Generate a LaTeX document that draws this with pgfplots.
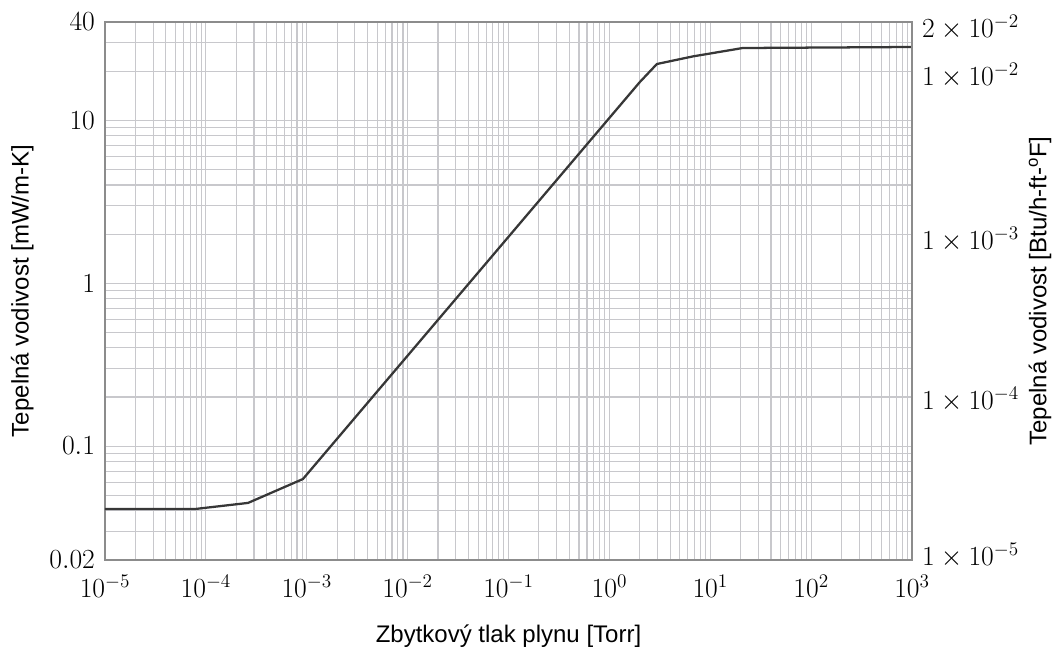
\documentclass[border=0pt]{standalone}
\usepackage{pgfplots}
\pgfplotsset{compat=1.18}
\usepackage{fontspec}
\setmainfont{Liberation Sans}
\definecolor{gridgray}{RGB}{200,200,204}
\definecolor{framegray}{RGB}{140,140,140}
\definecolor{curve}{RGB}{55,55,55}
\begin{document}
\begin{tikzpicture}
\path[use as bounding box] (-78.75pt,-75pt) rectangle (717.75pt,420pt);
\begin{axis}[
  at={(0,0)}, anchor=south west,
  scale only axis, width=605.25pt, height=403.5pt,
  xmode=log, ymode=log,
  xmin=1e-5, xmax=1e3, ymin=0.02, ymax=40,
  xtick={1e-5,1e-4,1e-3,1e-2,1e-1,1,10,100,1000},
  ytick={0.02,0.1,1,10,40},
  yticklabels={$0.02$,$0.1$,$1$,$10$,$40$},
  minor ytick={0.03,0.04,0.05,0.06,0.07,0.08,0.09,0.2,0.3,0.4,0.5,0.6,0.7,0.8,0.9,2,3,4,5,6,7,8,9,20,30},
  grid=both,
  major grid style={draw=gridgray, line width=0.8pt},
  minor grid style={draw=gridgray, line width=0.8pt},
  axis line style={draw=framegray, line width=0.8pt},
  tick style={draw=none},
  ticklabel style={font=\fontsize{20}{24}\selectfont},
  xticklabel style={yshift=-8pt},
  yticklabel style={xshift=-4pt},
  label style={font=\fontsize{18}{22}\selectfont},
  xlabel={Zbytkový tlak plynu [Torr]},
  ylabel={Tepelná vodivost [mW/m-K]},
  xlabel style={at={(axis description cs:0.5,0)}, anchor=center, yshift=-57pt},
  ylabel style={at={(axis description cs:0,0.5)}, anchor=center, yshift=62pt},
]
\addplot[curve, line width=1.7pt] coordinates {
  (1e-5,0.0411) (7.8e-5,0.0411) (2.62e-4,0.0448) (9.17e-4,0.0628)
  (2.0,17.1) (2.96,22.1) (6.73,24.6) (21.0,27.7) (1000,28.1)
};
\end{axis}
\begin{axis}[
  at={(0,0)}, anchor=south west,
  scale only axis, width=605.25pt, height=403.5pt,
  xmode=log, ymode=log,
  xmin=1e-5, xmax=1e3, ymin=0.02, ymax=40,
  axis x line=none,
  axis y line*=right,
  axis line style={draw=framegray, line width=0.8pt},
  ytick={36.8,18.9,1.84,0.192,0.0212},
  yticklabels={$2\times10^{-2}$,$1\times10^{-2}$,$1\times10^{-3}$,$1\times10^{-4}$,$1\times10^{-5}$},
  minor ytick={},
  tick style={draw=none},
  ticklabel style={font=\fontsize{20}{24}\selectfont},
  yticklabel style={xshift=4pt},
  label style={font=\fontsize{18}{22}\selectfont},
  ylabel={Tepelná vodivost [Btu/h-ft-\textsuperscript{o}F]},
  ylabel style={at={(axis description cs:1,0.5)}, anchor=center, yshift=-96pt},
]
\addplot[draw=none] coordinates {(1e-5,1) (1e3,1)};
\end{axis}
\end{tikzpicture}
\end{document}
